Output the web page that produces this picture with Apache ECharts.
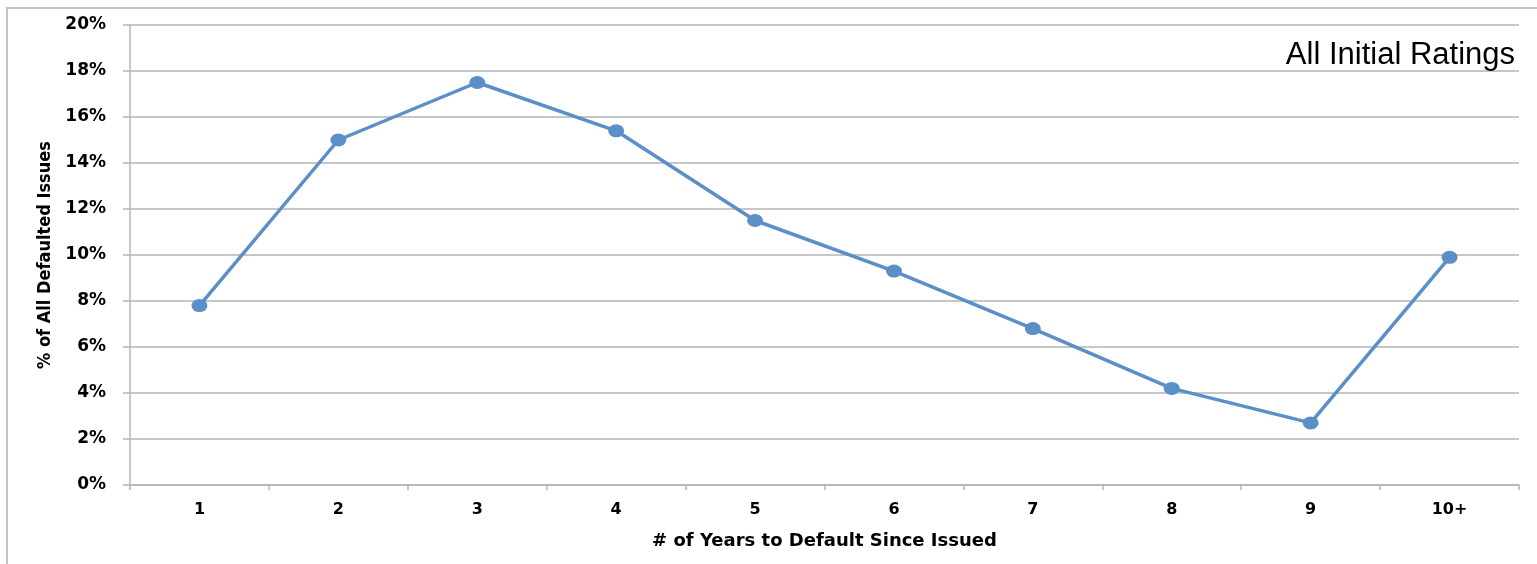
<!DOCTYPE html>
<html>
<head>
<meta charset="utf-8">
<script src="https://cdn.jsdelivr.net/npm/echarts@6/dist/echarts.min.js"></script>
<style>
  html, body { margin: 0; padding: 0; background: #fff; }
  #frame { position: absolute; left: 6px; top: 7px; width: 1540px; height: 570px; border-left: 2px solid #c4c4c4; border-top: 2px solid #c4c4c4; box-sizing: border-box; }
  #chart { position: absolute; left: 0; top: 0; width: 1537px; height: 564px; }
</style>
</head>
<body>
<div id="frame"></div>
<div id="chart"></div>
<script>
// Years elapsed between issuance and default
const categories = ['1', '2', '3', '4', '5', '6', '7', '8', '9', '10+'];
// Share of all defaulted issues (%)
const shareOfDefaults = [7.8, 15.0, 17.5, 15.4, 11.5, 9.3, 6.8, 4.2, 2.7, 9.9];
// Y axis range and step (%)
const yMin = 0, yMax = 20, yStep = 2;

const chart = echarts.init(document.getElementById('chart'), null, { renderer: 'canvas' });
const boldLabel = { fontFamily: '"DejaVu Sans", sans-serif', fontWeight: 'bold', fontSize: 16, color: '#000' };
const gridGray = '#b4b4b4';
// slightly wide ellipse for the point markers
const ellipse = 'path://M50,0 A50,50 0 1 1 50,100 A50,50 0 1 1 50,0 Z';

chart.setOption({
  animation: false,
  backgroundColor: 'transparent',
  title: {
    text: 'All Initial Ratings',
    right: 17, top: 35,
    textStyle: { fontFamily: '"Liberation Sans", Arial, sans-serif', fontWeight: 'normal', fontSize: 31, color: '#000' }
  },
  grid: { left: 130, right: 18, top: 25, bottom: 79, containLabel: false },
  xAxis: {
    type: 'category',
    data: categories,
    boundaryGap: true,
    name: '# of Years to Default Since Issued',
    nameLocation: 'middle',
    nameGap: 47,
    nameTextStyle: Object.assign({}, boldLabel, { fontSize: 18 }),
    axisLine: { lineStyle: { color: gridGray, width: 1.5 } },
    axisTick: { show: true, length: 5, alignWithLabel: false, lineStyle: { color: gridGray, width: 1.5 } },
    axisLabel: Object.assign({}, boldLabel, { margin: 17 }),
    splitLine: { show: false }
  },
  yAxis: {
    type: 'value',
    min: yMin, max: yMax, interval: yStep,
    name: '% of All Defaulted Issues',
    nameLocation: 'middle',
    nameGap: 76,
    nameRotate: 90,
    nameTextStyle: { fontFamily: '"Liberation Sans Narrow", "DejaVu Sans Condensed", sans-serif', fontWeight: 'bold', fontSize: 18, color: '#000' },
    axisLine: { show: true, lineStyle: { color: gridGray, width: 1.5 } },
    axisTick: { show: true, inside: false, length: 7, lineStyle: { color: gridGray, width: 1.5 } },
    axisLabel: Object.assign({}, boldLabel, { fontSize: 17, margin: 24, padding: [4, 0, 0, 0], formatter: v => v + '%' }),
    splitLine: { show: true, lineStyle: { color: gridGray, width: 1.5 } }
  },
  series: [{
    type: 'line',
    data: shareOfDefaults,
    symbol: ellipse,
    symbolSize: [16, 13],
    symbolKeepAspect: false,
    lineStyle: { color: '#5b8fc8', width: 3.5 },
    itemStyle: { color: '#5b8fc8' }
  }]
});
</script>
</body>
</html>
